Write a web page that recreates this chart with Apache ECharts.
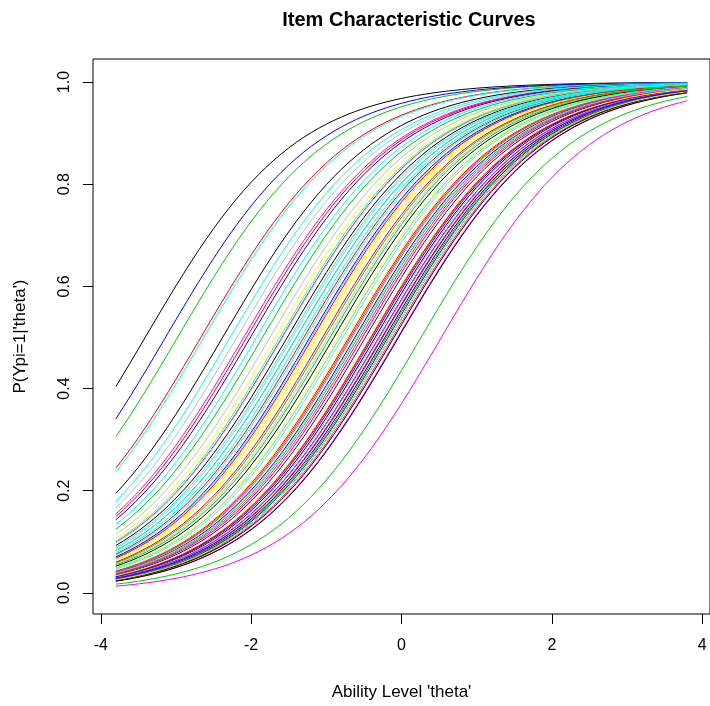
<!DOCTYPE html>
<html>
<head>
<meta charset="utf-8">
<script src="https://cdn.jsdelivr.net/npm/echarts@6/dist/echarts.min.js"></script>
<style>
  html, body { margin: 0; padding: 0; background: #fff; }
  #chart { width: 710px; height: 706px; }
</style>
</head>
<body>
<div id="chart"></div>
<script>
var difficulty = [
    -3.41, -2.67, -2.98, -3.14, -2.63, -2.10, -1.68, -2.19,
    -2.38, -2.06,  0.26, -2.01, -2.28,  0.53, -0.62, -1.75,
    -0.35, -1.59, -1.85, -0.48, -1.93, -0.12, -1.12, -1.45,
    -0.22, -1.30, -0.95, -0.30, -1.62, -0.41, -0.85, -1.20,
    -1.52, -0.70, -1.40, -0.18, -1.34, -0.55, -0.28, -0.98,
    -0.10, -1.05, -0.66, -1.22, -1.48, -0.25, -1.15, -0.78,
    -0.15, -0.40, -0.58, -0.62, -1.27, -0.05, -0.72, -0.33,
    -0.90, -1.18, -0.20, -0.38, -0.82, -0.30, -0.15, -1.58,
    -0.04, -0.52, -1.02, -0.26, -1.40, -0.68, -0.44, -0.60
];
var thetaFrom = -3.8, thetaTo = 3.8, thetaStep = 0.1;
var xTicks = [-4, -2, 0, 2, 4];
var yTicks = [0, 0.2, 0.4, 0.6, 0.8, 1.0];

// old R palette, cycled over the items
var palette = ['#000000', '#FF0000', '#00CD00', '#0000FF', '#00FFFF', '#FF00FF', '#FFFF00', '#BEBEBE'];

var theta = [];
for (var k = 0; k <= Math.round((thetaTo - thetaFrom) / thetaStep); k++) {
    theta.push(+(thetaFrom + k * thetaStep).toFixed(2));
}

var series = difficulty.map(function (b, i) {
    return {
        type: 'line',
        symbol: 'none',
        silent: true,
        lineStyle: { width: 1, color: palette[i % palette.length] },
        data: theta.map(function (t) {
            return [t, 1 / (1 + Math.exp(-(t - b)))];
        })
    };
});

var font = 'Liberation Sans, Arial, sans-serif';
var myChart = echarts.init(document.getElementById('chart'));
option = {
    animation: false,
    backgroundColor: '#fff',
    title: {
        text: 'Item Characteristic Curves',
        left: 404,
        textAlign: 'center',
        top: 5,
        textStyle: { fontFamily: font, fontSize: 20, fontWeight: 'bold', color: '#000' }
    },
    grid: {
        left: 93, right: -6, top: 59, bottom: 89,
        show: true, borderColor: '#000', borderWidth: 1
    },
    xAxis: {
        type: 'value',
        min: -4.104, max: 4.104,
        name: "Ability Level 'theta'",
        nameLocation: 'middle',
        nameGap: 70,
        nameTextStyle: { fontFamily: font, fontSize: 17, color: '#000' },
        splitLine: { show: false },
        axisLine: { show: false, onZero: false },
        axisTick: { show: true, length: 10, customValues: xTicks, lineStyle: { color: '#000' } },
        axisLabel: { customValues: xTicks, margin: 24, fontFamily: font, fontSize: 16, color: '#000' }
    },
    yAxis: {
        type: 'value',
        min: -0.0415, max: 1.0452,
        name: "P(Ypi=1|'theta')",
        nameLocation: 'middle',
        nameGap: 64,
        nameTextStyle: { fontFamily: font, fontSize: 17, color: '#000' },
        splitLine: { show: false },
        axisLine: { show: false, onZero: false },
        axisTick: { show: true, length: 10, customValues: yTicks, lineStyle: { color: '#000' } },
        axisLabel: {
            customValues: yTicks, rotate: 90, margin: 20,
            fontFamily: font, fontSize: 16, color: '#000',
            formatter: function (v) { return v.toFixed(1); }
        }
    },
    series: series
};
myChart.setOption(option);
</script>
</body>
</html>
